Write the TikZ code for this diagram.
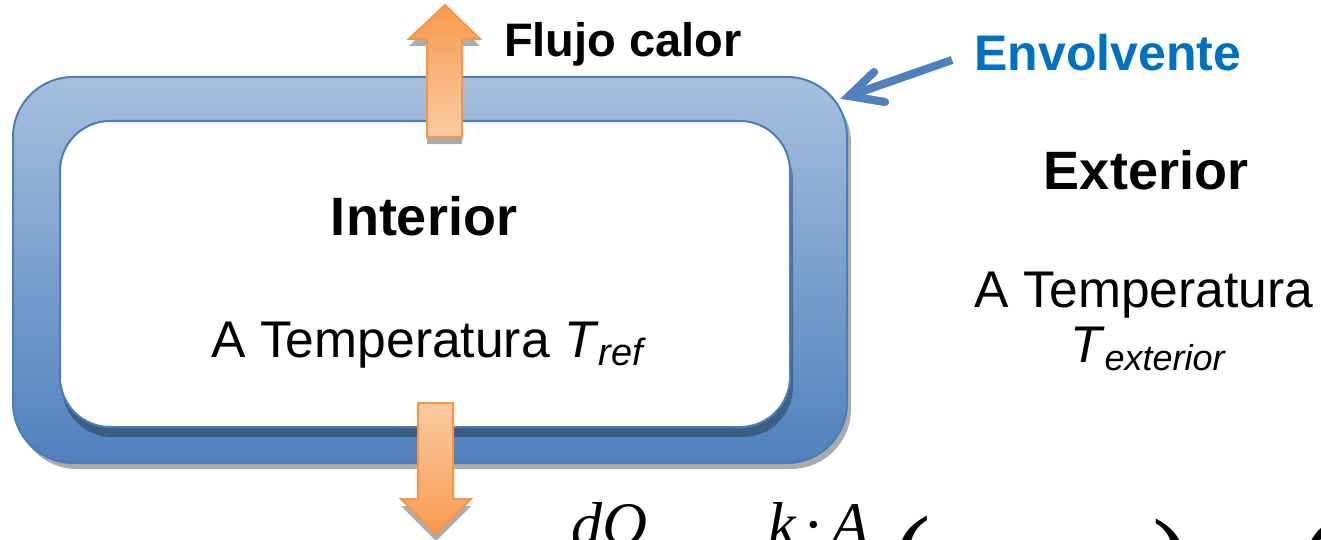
\documentclass[tikz,border=0pt]{standalone}
\usepackage{fontspec}
\setmainfont{Liberation Sans}
\newfontfamily\seriffont{Liberation Serif}
\usetikzlibrary{calc}
\definecolor{frameblue}{HTML}{4F81BD}
\definecolor{framelight}{HTML}{A7BFDE}
\definecolor{framemid}{HTML}{8FACD5}
\definecolor{frameedge}{HTML}{4A7EBB}
\definecolor{orangedark}{HTML}{F79646}
\definecolor{orangetop}{HTML}{F79A4E}
\definecolor{orangelight}{HTML}{FBCBA3}
\definecolor{envblue}{HTML}{0070C0}
\begin{document}
\begin{tikzpicture}[x=0.5pt,y=-0.5pt,
  shadowfill/.style={fill=black,fill opacity=0.33,draw=none},
  orangearrow/.style={draw=orangedark,line width=1pt,line join=miter},
  boldlabel/.style={font=\bfseries\fontsize{27}{30}\selectfont,inner sep=0pt,anchor=base},
  plainlabel/.style={font=\fontsize{25.8}{28}\selectfont,inner sep=0pt,anchor=base},
  envline/.style={draw=frameblue,line width=4pt},
  formula/.style={font=\seriffont\itshape\fontsize{31}{31}\selectfont,inner sep=0pt,anchor=base west},
  paren/.style={font=\seriffont\fontsize{58}{58}\selectfont,inner sep=0pt,anchor=base west}
]
\useasboundingbox (0,0) rectangle (1321,540);
\clip (0,0) rectangle (1321,540);

% envelope frame
\fill[shadowfill, rounded corners=30pt] (17,83) rectangle (851,469);
\shadedraw[top color=framelight, middle color=framemid, bottom color=frameblue,
  draw=frameedge, line width=1pt, rounded corners=30pt] (13,77) rectangle (847,463);
\fill[shadowfill, fill opacity=0.3, rounded corners=25pt] (62,130) rectangle (793,437);
\draw[fill=white, draw=frameedge, line width=1pt, rounded corners=25pt] (60,121) rectangle (790,427);

% heat flow arrows
\fill[shadowfill, shift={(0,7)}] (445,5) -- (480,39) -- (462,39) -- (462,137) -- (427,137) -- (427,39) -- (409,39) -- cycle;
\shadedraw[orangearrow, top color=orangetop, bottom color=orangelight]
  (445,5) -- (480,39) -- (462,39) -- (462,137) -- (427,137) -- (427,39) -- (409,39) -- cycle;
\fill[shadowfill, shift={(0,7)}] (418,403) -- (453,403) -- (453,499) -- (471,499) -- (436,534) -- (401,499) -- (418,499) -- cycle;
\shadedraw[orangearrow, top color=orangelight, bottom color=orangetop]
  (418,403) -- (453,403) -- (453,499) -- (471,499) -- (436,534) -- (401,499) -- (418,499) -- cycle;

% labels
\node[boldlabel, font=\bfseries\fontsize{23.5}{26}\selectfont] (flujo) at (623,57) {Flujo calor};
\node[boldlabel, font=\bfseries\fontsize{25}{28}\selectfont, text=envblue] (envolvente) at (1108,71) {Envolvente};
\node[boldlabel] (interior) at (424,235) {Interior};
\node[boldlabel] (exterior) at (1146,189) {Exterior};
\node[plainlabel, anchor=base west] (tempint) at (211,357)
  {A Temperatura \textit{T}\raisebox{-4pt}{\fontsize{19}{19}\selectfont\textit{ref}}};
\node[plainlabel] (tempext) at (1144,307) {A Temperatura};
\node[plainlabel] (text) at (1148,362)
  {\textit{T}\raisebox{-4pt}{\fontsize{18}{18}\selectfont\textit{exterior}}};

% pointer to the envelope
\coordinate (envtail) at (952,60);
\coordinate (envtip) at (849,96);
\begin{scope}[shift={(3,5)}]
  \draw[envline, draw=black, opacity=0.3] (envtail) -- (envtip);
  \draw[envline, draw=black, opacity=0.3, line cap=round] ($(envtip)+(25,-24)$) -- (envtip) -- ($(envtip)+(36,6)$);
\end{scope}
\draw[envline] (envtail) -- (envtip);
\draw[envline, line cap=round] ($(envtip)+(25,-24)$) -- (envtip) -- ($(envtip)+(36,6)$);

% formula (cut off at the lower edge)
\node[formula] (dq) at (571,545) {dQ};
\node[formula] (ka) at (768,545) {k\hspace{0.12em}{\upshape ·}\hspace{0.12em}A};
\node[paren] (lp) at (892,596) {(};
\node[paren] (rp) at (1152,599) {)};
\node[paren] (lp2) at (1300,599) {(};
\end{tikzpicture}
\end{document}
